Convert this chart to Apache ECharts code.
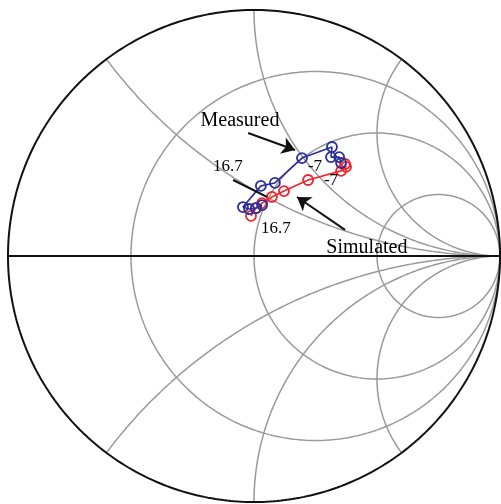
<!DOCTYPE html>
<html>
<head>
<meta charset="utf-8">
<script src="https://cdn.jsdelivr.net/npm/echarts@6/dist/echarts.min.js"></script>
<style>
html, body { margin: 0; padding: 0; background: #fff; }
#maindiv { width: 501px; height: 504px; }
</style>
</head>
<body>
<div id="maindiv"></div>
<script>
// smith chart grid values
var resistanceList = [1 / 3, 1, 3];
var reactanceList = [0.5, 1, 2];

// reflection coefficient points [re, im]
var measuredData = [
    [0.033, 0.207], [0.008, 0.195], [-0.020, 0.191], [-0.045, 0.199],
    [0.028, 0.285], [0.085, 0.297], [0.195, 0.398], [0.317, 0.443],
    [0.313, 0.402], [0.346, 0.402], [0.354, 0.378]
];
var simulatedData = [
    [-0.012, 0.163], [0.008, 0.195], [0.033, 0.215], [0.073, 0.240],
    [0.122, 0.264], [0.220, 0.309], [0.354, 0.346], [0.374, 0.362],
    [0.370, 0.374]
];

// annotations
var labelTexts = ['Measured', 'Simulated', '16.7', '16.7', '-7', '-7'];
var labelPos = [[-0.057, 0.549], [0.459, 0.033], [-0.106, 0.362], [0.089, 0.110], [0.248, 0.362], [0.313, 0.305]];
var labelSizes = [20, 20, 17, 17, 17, 17];
var arrowList = [
    [[-0.024, 0.500], [0.167, 0.431]],
    [[0.370, 0.106], [0.175, 0.240]]
];
var plainLineList = [
    [[-0.085, 0.309], [0.053, 0.240]]
];

function gamma(r, x) {
    var d = (r + 1) * (r + 1) + x * x;
    return [(r * r - 1 + x * x) / d, 2 * x / d];
}
function resistanceCircle(r) {
    var pts = [];
    for (var i = 1; i < 400; i++) {
        var th = -Math.PI / 2 + Math.PI * i / 400;
        pts.push(gamma(r, Math.tan(th)));
    }
    pts.unshift([1, 0]);
    pts.push([1, 0]);
    return pts;
}
function reactanceArc(x) {
    var pts = [];
    for (var i = 0; i < 400; i++) {
        var t = i / 400;
        pts.push(gamma(t / (1 - t), x));
    }
    pts.push([1, 0]);
    return pts;
}

var series = [];
function addGrid(pts, color, width) {
    series.push({
        type: 'line', data: pts, showSymbol: false, silent: true, z: 1,
        lineStyle: { color: color, width: width }
    });
}
resistanceList.forEach(function (r) { addGrid(resistanceCircle(r), '#9a9a9a', 1.5); });
reactanceList.forEach(function (x) {
    addGrid(reactanceArc(x), '#9a9a9a', 1.5);
    addGrid(reactanceArc(-x), '#9a9a9a', 1.5);
});
addGrid(resistanceCircle(0), '#111', 2);
addGrid([[-1, 0], [1, 0]], '#111', 2);

series.push({
    name: 'Measured', type: 'line', data: measuredData, z: 5,
    symbol: 'circle', symbolSize: 10, showSymbol: true,
    itemStyle: { color: 'rgba(255,255,255,0)', borderColor: '#2b2f9a', borderWidth: 1.8 },
    lineStyle: { color: '#2b2f9a', width: 1.6 }
});
series.push({
    name: 'Simulated', type: 'line', data: simulatedData, z: 4,
    symbol: 'circle', symbolSize: 10, showSymbol: true,
    itemStyle: { color: 'rgba(255,255,255,0)', borderColor: '#f0242a', borderWidth: 1.8 },
    lineStyle: { color: '#f0242a', width: 1.6 }
});

series.push({
    type: 'scatter', symbolSize: 0, silent: true, z: 6,
    itemStyle: { opacity: 1 },
    data: labelTexts.map(function (t, i) {
        return {
            value: labelPos[i], name: t,
            label: { fontSize: labelSizes[i] }
        };
    }),
    label: {
        show: true, position: 'inside', formatter: '{b}',
        color: '#000', opacity: 1, textBorderWidth: 0,
        fontFamily: 'Liberation Serif', fontWeight: 'normal'
    }
});
series.push({
    type: 'lines', coordinateSystem: 'cartesian2d', silent: true, z: 6,
    symbol: ['none', 'arrow'], symbolSize: 13,
    lineStyle: { color: '#111', width: 2, opacity: 1 },
    data: arrowList.map(function (a) { return { coords: a }; })
});
series.push({
    type: 'lines', coordinateSystem: 'cartesian2d', silent: true, z: 6,
    symbol: ['none', 'none'],
    lineStyle: { color: '#111', width: 2, opacity: 1 },
    data: plainLineList.map(function (a) { return { coords: a }; })
});

var chart = echarts.init(document.getElementById('maindiv'));
chart.setOption({
    animation: false,
    grid: { left: 8, top: 10, width: 492, height: 492 },
    xAxis: { type: 'value', min: -1, max: 1, show: false },
    yAxis: { type: 'value', min: -1, max: 1, show: false },
    series: series
});
</script>
</body>
</html>
